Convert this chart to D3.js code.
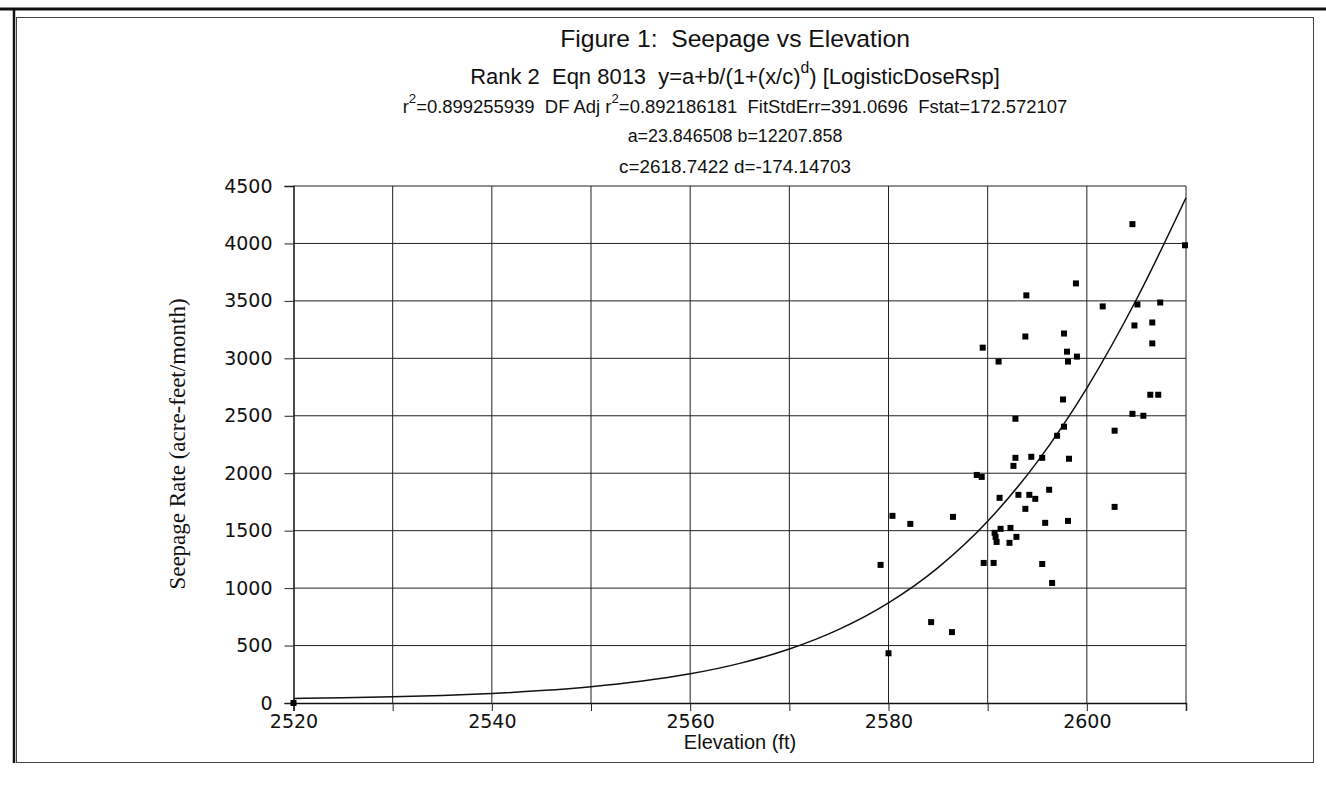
<!DOCTYPE html>
<html>
<head>
<meta charset="utf-8">
<script src="https://cdn.jsdelivr.net/npm/d3@7"></script>
<style>
  body { margin: 0; background: #fff; }
  svg { display: block; }
  text { white-space: pre; }
</style>
</head>
<body>
<svg id="chart"></svg>
<script>
var elevation = [2520, 2609.9, 2604.6, 2598.9, 2593.9, 2601.6, 2605.1, 2607.4, 2604.8, 2606.6,
  2606.6, 2593.8, 2597.7, 2589.5, 2591.1, 2598.0, 2598.1, 2599.0, 2597.6, 2606.4,
  2607.2, 2604.6, 2605.7, 2602.8, 2592.8, 2597.7, 2597.0, 2592.8, 2594.4, 2595.5,
  2598.2, 2592.6, 2588.9, 2589.4, 2596.2, 2591.2, 2593.1, 2594.2, 2594.8, 2593.8,
  2602.8, 2580.4, 2582.2, 2586.5, 2595.8, 2598.1, 2591.3, 2592.3, 2590.7, 2590.8,
  2590.9, 2592.2, 2592.9, 2579.2, 2589.6, 2590.6, 2595.5, 2596.5, 2584.3, 2586.4,
  2580.0];
var seepage = [0, 3984, 4168, 3652, 3548, 3452, 3469, 3486, 3286, 3312,
  3130, 3190, 3216, 3093, 2972, 3058, 2972, 3015, 2642, 2683,
  2683, 2517, 2500, 2370, 2474, 2405, 2326, 2134, 2143, 2134,
  2126, 2064, 1985, 1968, 1856, 1786, 1812, 1812, 1777, 1690,
  1707, 1629, 1559, 1620, 1568, 1585, 1516, 1524, 1481, 1446,
  1402, 1394, 1446, 1202, 1219, 1219, 1210, 1045, 704, 617,
  433];

// fitted curve, read every 5 ft
var fitElevation = [2520, 2525, 2530, 2535, 2540, 2545, 2550, 2555, 2560, 2565,
  2570, 2575, 2580, 2585, 2590, 2595, 2600, 2605, 2610];
var fitSeepage = [39, 45, 54, 66, 83, 108, 142, 189, 254, 345,
  470, 641, 872, 1179, 1582, 2099, 2741, 3512, 4398];

var xTicks = [2520, 2530, 2540, 2550, 2560, 2570, 2580, 2590, 2600, 2610];
var xLabels = [2520, 2540, 2560, 2580, 2600];
var yTicks = [0, 500, 1000, 1500, 2000, 2500, 3000, 3500, 4000, 4500];

// "^" marks a one-letter superscript
var titleLines = [
  "Figure 1:  Seepage vs Elevation",
  "Rank 2  Eqn 8013  y=a+b/(1+(x/c)^d) [LogisticDoseRsp]",
  "r^2=0.899255939  DF Adj r^2=0.892186181  FitStdErr=391.0696  Fstat=172.572107",
  "a=23.846508 b=12207.858",
  "c=2618.7422 d=-174.14703"
];

var W = 1326, H = 795;
var svg = d3.select('#chart').attr('width', W).attr('height', H);
var sans = "'Liberation Sans', Arial, sans-serif";

svg.append('rect').attr('width', W).attr('height', H).attr('fill', '#fff');

// scan edge and chart frame
svg.append('line').attr('x1', 0).attr('x2', W).attr('y1', 9).attr('y2', 9)
  .attr('stroke', '#111').attr('stroke-width', 3);
svg.append('rect').attr('x', 16.5).attr('y', 17.5).attr('width', 1297).attr('height', 745)
  .attr('fill', 'none').attr('stroke', '#444').attr('stroke-width', 1);
svg.append('line').attr('x1', 14).attr('x2', 14).attr('y1', 9).attr('y2', 763)
  .attr('stroke', '#111').attr('stroke-width', 2.5);

/*
	title block
 */
var titleX = 735;
var titleY = [38, 76, 106, 136, 166];
var titleW = [350, 530, 665, 215, 232];
var titleSize = [19, 16, 13, 14, 14];

function addLine(i) {
  var t = svg.append('text')
    .attr('x', titleX).attr('y', titleY[i])
    .attr('text-anchor', 'middle').attr('dominant-baseline', 'central')
    .style('font-family', sans).style('font-size', titleSize[i] + 'px').attr('fill', '#111');
  var parts = titleLines[i].split('^');
  t.append('tspan').text(parts[0]);
  for (var k = 1; k < parts.length; k++) {
    t.append('tspan').attr('baseline-shift', 'super').style('font-size', '0.72em')
      .text(parts[k].charAt(0));
    t.append('tspan').text(parts[k].slice(1));
  }
  // fit to the measured width
  var w = t.node().getComputedTextLength();
  t.style('font-size', (titleSize[i] * titleW[i] / w) + 'px');
}
for (var i = 0; i < titleLines.length; i++) addLine(i);

/*
	scales
 */
var x = d3.scaleLinear().domain([2520, 2610]).range([293.5, 1186]);
var y = d3.scaleLinear().domain([0, 4500]).range([703, 186]);

// grid
svg.append('g').selectAll('line').data(xTicks.slice(1)).enter().append('line')
  .attr('x1', function(d){ return x(d); }).attr('x2', function(d){ return x(d); })
  .attr('y1', y(4500)).attr('y2', y(0))
  .attr('stroke', '#222').attr('stroke-width', 1);
svg.append('g').selectAll('line').data(yTicks.slice(1)).enter().append('line')
  .attr('x1', x(2520)).attr('x2', x(2610))
  .attr('y1', function(d){ return y(d); }).attr('y2', function(d){ return y(d); })
  .attr('stroke', '#222').attr('stroke-width', 1);

// axes
var yAxis = d3.axisLeft(y).tickValues(yTicks).tickSize(9).tickPadding(12)
  .tickFormat(d3.format('d'));
var gy = svg.append('g').attr('transform', 'translate(' + x(2520) + ',0)').call(yAxis);

var xAxis = d3.axisBottom(x).tickValues(xTicks).tickSize(8).tickPadding(4)
  .tickFormat(function(d){ return xLabels.indexOf(d) >= 0 ? d : ''; });
var gx = svg.append('g').attr('transform', 'translate(0,' + y(0) + ')').call(xAxis);

[gx, gy].forEach(function(g){
  g.select('.domain').attr('stroke', '#111').attr('stroke-width', 1.5);
  g.selectAll('.tick line').attr('stroke', '#222');
  g.selectAll('text').attr('fill', '#111')
    .style('font-family', "'DejaVu Sans', sans-serif").style('font-size', '19px');
});

// axis titles
svg.append('text')
  .attr('transform', 'translate(177,444) rotate(-90)')
  .attr('text-anchor', 'middle').attr('dominant-baseline', 'central')
  .style('font-family', "'Liberation Serif', 'Times New Roman', serif").style('font-size', '23px')
  .attr('fill', '#111')
  .text('Seepage Rate (acre-feet/month)');

svg.append('text')
  .attr('x', 740).attr('y', 742)
  .attr('text-anchor', 'middle').attr('dominant-baseline', 'central')
  .style('font-family', sans).style('font-size', '20px').attr('fill', '#111')
  .text('Elevation (ft)');

/*
	fitted curve
 */
var line = d3.line()
  .x(function(d, i){ return x(fitElevation[i]); })
  .y(function(d){ return y(d); })
  .curve(d3.curveMonotoneX);
svg.append('path').datum(fitSeepage)
  .attr('d', line).attr('fill', 'none').attr('stroke', '#111').attr('stroke-width', 1.5);

/*
	observed points
 */
svg.append('g').selectAll('rect').data(seepage).enter().append('rect')
  .attr('x', function(d, i){ return x(elevation[i]) - 3; })
  .attr('y', function(d){ return y(d) - 3; })
  .attr('width', 6).attr('height', 6)
  .attr('fill', '#000');
</script>
</body>
</html>
